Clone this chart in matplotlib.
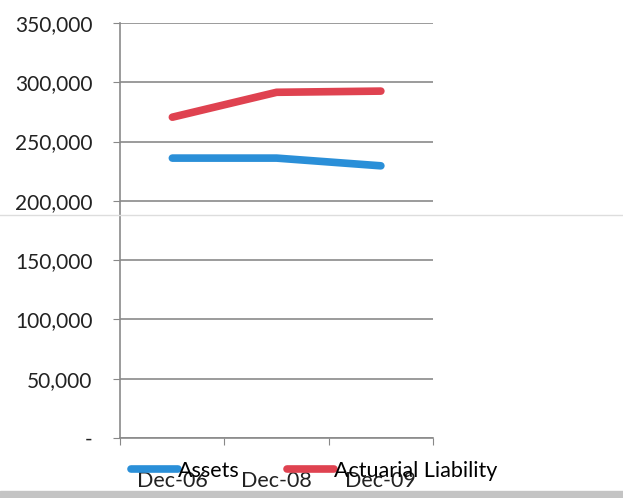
import matplotlib.pyplot as plt
from matplotlib.ticker import FuncFormatter

plt.rcParams['font.family'] = ['Lato', 'DejaVu Sans']

periods = ["Dec-06", "Dec-08", "Dec-09"]
assets = [236000, 236000, 229500]
liability = [270500, 291500, 292500]

fig = plt.figure(figsize=(6.23, 4.98), dpi=100)
ax = fig.add_axes([0.193, 0.1205, 0.502, 0.8335])

x = range(len(periods))
ax.plot(x, assets, color='#2a8fd8', lw=5.5, solid_capstyle='round',
        solid_joinstyle='round', label='Assets')
ax.plot(x, liability, color='#df4250', lw=5.5, solid_capstyle='round',
        solid_joinstyle='round', label='Actuarial Liability')

ax.set_xlim(-0.5, 2.5)
ax.set_ylim(0, 350000)
ax.set_yticks(range(0, 350001, 50000))
ax.yaxis.set_major_formatter(FuncFormatter(lambda v, p: '-' if v == 0 else f'{int(v):,}'))
ax.set_xticks([-0.5, 0.5, 1.5, 2.5], minor=False)
ax.set_xticklabels([])
ax.set_xticks(list(x), minor=True)
ax.set_xticklabels(periods, minor=True)
ax.tick_params(axis='x', which='minor', length=0, pad=24, labelsize=15.5, colors='#222222')
ax.tick_params(axis='x', which='major', length=5, color='#888888', direction='out')
ax.tick_params(axis='y', length=5, color='#888888', labelsize=15, labelcolor='#222222', pad=15)

ax.grid(axis='y', color='#8a8a8a', lw=1.2)
for side in ['top', 'right']:
    ax.spines[side].set_visible(False)
for side in ['left', 'bottom']:
    ax.spines[side].set_color('#8a8a8a')
    ax.spines[side].set_linewidth(1.2)

leg = ax.legend(loc='upper center', bbox_to_anchor=(0.62, -0.008), ncol=2, frameon=False,
                fontsize=15.5, handlelength=2.2, handletextpad=0.0, columnspacing=2.2)

# scan artifacts
fig.add_artist(plt.Line2D([0, 1], [1 - 215 / 498] * 2, color='#dddddd', lw=1))
fig.patches.append(plt.Rectangle((0, 0), 1, 7 / 498, transform=fig.transFigure,
                                 color='#c4c4c4', zorder=0))

fig.savefig('out.png', dpi=100)
